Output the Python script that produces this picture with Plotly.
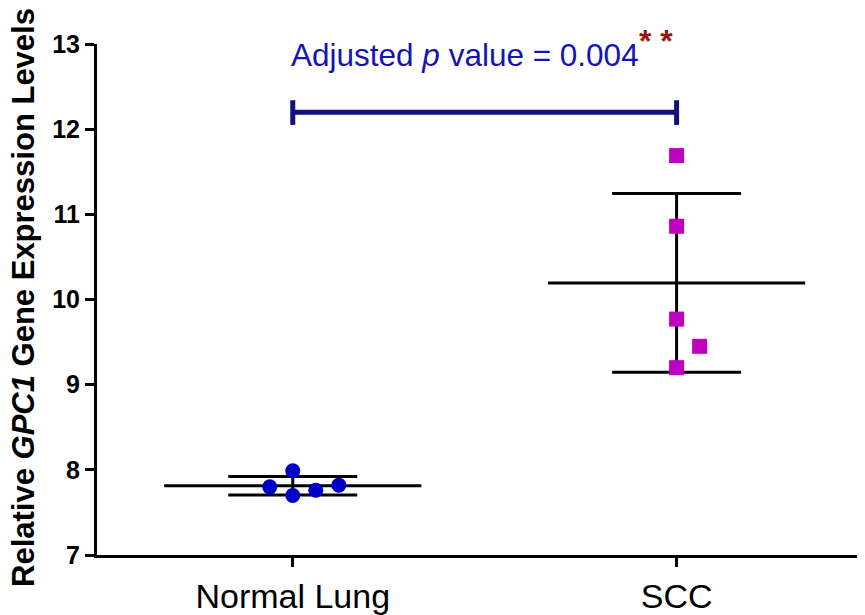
import numpy as np
import plotly.graph_objects as go

categories = ["Normal Lung", "SCC"]
normal_values = [7.80, 7.99, 7.70, 7.76, 7.82]
normal_jitter = [-0.06, 0.0, 0.0, 0.06, 0.12]
scc_values = [11.69, 10.86, 9.77, 9.45, 9.20]
scc_jitter = [0.0, 0.0, 0.0, 0.06, 0.0]
y_ticks = [7, 8, 9, 10, 11, 12, 13]
p_label = "Adjusted <i>p</i> value = 0.004"
y_title = "<b>Relative <i>GPC1</i> Gene Expression Levels</b>"
sig_y = 12.20

groups = [
    (0, normal_values, normal_jitter, "circle", "#0000C8", 15),
    (1, scc_values, scc_jitter, "square", "#C000C0", 15),
]

fig = go.Figure()
mean_half = 0.335
cap_half = 0.168
for xc, vals, jit, sym, col, sz in groups:
    m = float(np.mean(vals))
    sd = float(np.std(vals, ddof=1))
    fig.add_trace(go.Scatter(x=[xc - mean_half, xc + mean_half], y=[m, m], mode="lines",
                             line=dict(color="black", width=3), showlegend=False, hoverinfo="skip"))
    for yv in (m - sd, m + sd):
        fig.add_trace(go.Scatter(x=[xc - cap_half, xc + cap_half], y=[yv, yv], mode="lines",
                                 line=dict(color="black", width=3), showlegend=False, hoverinfo="skip"))
    fig.add_trace(go.Scatter(x=[xc, xc], y=[m - sd, m + sd], mode="lines",
                             line=dict(color="black", width=3), showlegend=False, hoverinfo="skip"))

for xc, vals, jit, sym, col, sz in groups:
    fig.add_trace(go.Scatter(x=[xc + j for j in jit], y=vals, mode="markers",
                             marker=dict(symbol=sym, size=sz, color=col, line=dict(width=0)),
                             showlegend=False, cliponaxis=False))

fig.add_trace(go.Scatter(x=[0, 1], y=[sig_y, sig_y], mode="lines",
                         line=dict(color="#10107E", width=5), showlegend=False, hoverinfo="skip"))
for xc in (0, 1):
    fig.add_trace(go.Scatter(x=[xc, xc], y=[sig_y - 0.15, sig_y + 0.14], mode="lines",
                             line=dict(color="#10107E", width=5), showlegend=False, hoverinfo="skip"))

fig.add_annotation(x=0.449, y=12.87, text=p_label, showarrow=False, xanchor="center", yanchor="middle",
                   font=dict(family="Liberation Sans, Arial", size=31.5, color="#1414B4"))
fig.add_annotation(x=0.946, xref="x", y=1.005, yref="paper", text="<b>* *</b>", showarrow=False,
                   xanchor="center", yanchor="middle",
                   font=dict(family="Liberation Sans, Arial", size=32, color="#A01010"))
fig.add_annotation(x=-0.0954, xref="paper", y=0.503, yref="paper", text=y_title, showarrow=False,
                   textangle=-90, xanchor="center", yanchor="middle",
                   font=dict(family="Liberation Sans, Arial", size=31, color="black"))

fig.update_layout(
    width=857, height=607,
    margin=dict(l=89, r=3, t=36, b=60),
    paper_bgcolor="white", plot_bgcolor="white",
    font=dict(family="Liberation Sans, Arial", color="black"),
)
fig.update_xaxes(
    range=[-0.51, 1.483], tickvals=[0, 1], ticktext=categories, automargin=False,
    showgrid=False, zeroline=False, showline=True, linecolor="black", linewidth=3,
    ticks="outside", ticklen=9, tickwidth=3, tickcolor="black",
    tickfont=dict(size=34, family="Liberation Sans, Arial", color="black"),
)
fig.update_yaxes(
    range=[7, 13], tickvals=y_ticks, ticktext=[f"<b>{t}</b>" for t in y_ticks], automargin=False,
    showgrid=False, zeroline=False, showline=True, linecolor="black", linewidth=3,
    ticks="outside", ticklen=9, tickwidth=3, tickcolor="black",
    tickfont=dict(size=25, family="Liberation Sans, Arial", color="black"),
)

fig.write_html("out.html")
